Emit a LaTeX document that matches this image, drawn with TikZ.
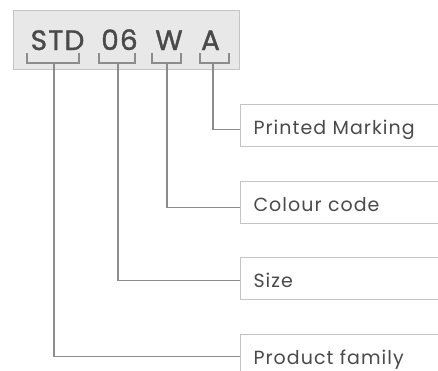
\documentclass[tikz,border=0pt]{standalone}
\usepackage{fontspec}
\setmainfont{Poppins}
\newfontfamily\labfont[LetterSpace=5.5]{Poppins}
\newfontfamily\codefont[LetterSpace=4,FakeBold=1.3]{Poppins}
\definecolor{txt}{HTML}{4A4A4A}
\definecolor{ln}{HTML}{8C8C8C}
\definecolor{bd}{HTML}{C4C4C4}
\definecolor{fillg}{HTML}{E8E8E8}
\tikzset{
  lab/.style={draw=bd, line width=1.1pt, fill=white, anchor=north west, minimum height=42pt,
    text width=210pt, inner xsep=13pt, align=left, text height=17pt, text depth=0pt,
    font=\labfont\fontsize{19}{21}\selectfont, text=txt},
  code/.style={anchor=base, font=\codefont\fontsize{28}{31}\selectfont, text=txt, inner sep=0pt},
  conn/.style={draw=ln, line width=1.3pt},
  brk/.style={draw=ln, line width=1.3pt}
}
\begin{document}
\begin{tikzpicture}[x=1pt,y=-1pt]
\useasboundingbox (0,0) rectangle (438,370);
\clip (0,0) rectangle (438,370);
\fill[white] (0,0) rectangle (438,370);
% code box
\node[draw=bd, fill=fillg, line width=1.1pt, anchor=north west, minimum width=226pt, minimum height=59pt, inner sep=0pt] (box) at (13,10) {};
\node[code] (tSTD) at (57.5,50) {STD};
\node[code] (t06) at (119.5,50) {06};
\node[code] (tW) at (169,50) {W};
\node[code] (tA) at (210.5,50) {A};
% brackets
\draw[brk] (27,53) -- (27,63) -- (79,63) -- (79,53);
\draw[brk] (99,53) -- (99,63) -- (135,63) -- (135,53);
\draw[brk] (152,53) -- (152,63) -- (181,63) -- (181,53);
\draw[brk] (200,53) -- (200,63) -- (229,63) -- (229,53);
\coordinate (bSTD) at (54,63);
\coordinate (b06) at (118,63);
\coordinate (bW) at (167,63);
\coordinate (bA) at (213,63);
% labels
\node[lab] (pm) at (240,104) {Printed Marking};
\node[lab] (cc) at (240,181) {Colour code};
\node[lab] (sz) at (240,257) {Size};
\node[lab] (pf) at (240,334) {Product family};
% connectors
\draw[conn] (bA) |- ([yshift=-4pt]pm.west);
\draw[conn] (bW) |- ([yshift=-5pt]cc.west);
\draw[conn] (b06) |- ([yshift=-2pt]sz.west);
\draw[conn] (bSTD) |- ([yshift=-1pt]pf.west);
\end{tikzpicture}
\end{document}
